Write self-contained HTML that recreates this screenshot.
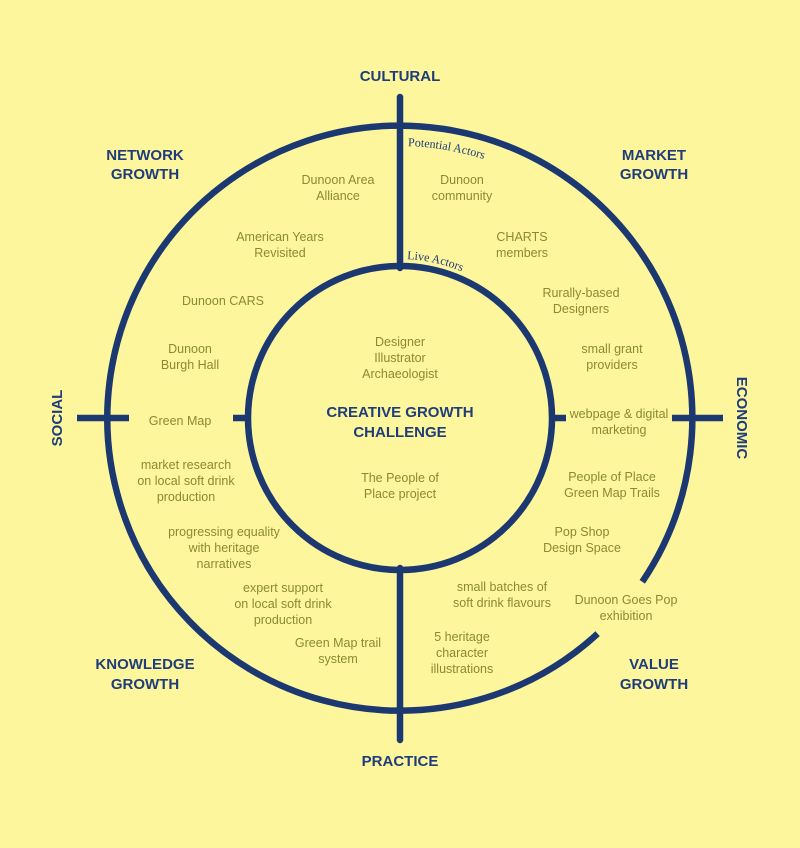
<!DOCTYPE html>
<html><head><meta charset="utf-8"><style>
html,body{margin:0;padding:0;background:#fdf69c;}
svg{display:block}
.t{font-family:"Liberation Sans",sans-serif;font-size:12.5px;fill:#8b8a33;text-anchor:middle}
.h{font-family:"Liberation Sans",sans-serif;font-size:15px;font-weight:bold;fill:#1f3d7a;text-anchor:middle}
.c{font-family:"Liberation Serif",serif;font-size:12px;fill:#1f3d7a}
</style></head><body>
<svg width="800" height="848" viewBox="0 0 800 848">
<rect width="800" height="848" fill="#fdf69c"/>
<g stroke="#1c3870" stroke-width="6.5" fill="none" stroke-linecap="butt">
<path d="M 642.3 581.8 A 292.5 292.5 0 1 0 597.6 633.7"/>
<circle cx="400" cy="418" r="152"/>
<line x1="400" y1="97" x2="400" y2="268" stroke-linecap="round"/>
<line x1="400" y1="568" x2="400" y2="740" stroke-linecap="round"/>
<line x1="77" y1="418" x2="129" y2="418"/>
<line x1="233" y1="418" x2="250" y2="418"/>
<line x1="550" y1="418" x2="566" y2="418"/>
<line x1="672" y1="418" x2="723" y2="418"/>
</g>
<defs>
<path id="pa" d="M 400 146 A 272 272 0 0 1 672 418"/>
<path id="la" d="M 400 259 A 159 159 0 0 1 559 418"/>
</defs>
<text class="c"><textPath href="#pa" startOffset="8">Potential Actors</textPath></text>
<text class="c"><textPath href="#la" startOffset="7">Live Actors</textPath></text>

<text class="h" x="400" y="81">CULTURAL</text>
<text class="h" x="400" y="766">PRACTICE</text>
<text class="h" x="145" y="160">NETWORK</text><text class="h" x="145" y="179">GROWTH</text>
<text class="h" x="654" y="160">MARKET</text><text class="h" x="654" y="179">GROWTH</text>
<text class="h" x="145" y="669">KNOWLEDGE</text><text class="h" x="145" y="689">GROWTH</text>
<text class="h" x="654" y="669">VALUE</text><text class="h" x="654" y="689">GROWTH</text>
<text class="h" transform="translate(62,418) rotate(-90)">SOCIAL</text>
<text class="h" transform="translate(737,418) rotate(90)">ECONOMIC</text>
<text class="h" x="400" y="417">CREATIVE GROWTH</text>
<text class="h" x="400" y="437">CHALLENGE</text>

<g class="t">
<text x="400" y="346">Designer</text><text x="400" y="362">Illustrator</text><text x="400" y="378">Archaeologist</text>
<text x="400" y="482">The People of</text><text x="400" y="498">Place project</text>
<text x="338" y="184">Dunoon Area</text><text x="338" y="200">Alliance</text>
<text x="280" y="241">American Years</text><text x="280" y="257">Revisited</text>
<text x="223" y="305">Dunoon CARS</text>
<text x="190" y="353">Dunoon</text><text x="190" y="369">Burgh Hall</text>
<text x="180" y="425">Green Map</text>
<text x="186" y="469">market research</text><text x="186" y="485">on local soft drink</text><text x="186" y="501">production</text>
<text x="224" y="536">progressing equality</text><text x="224" y="552">with heritage</text><text x="224" y="568">narratives</text>
<text x="283" y="592">expert support</text><text x="283" y="608">on local soft drink</text><text x="283" y="624">production</text>
<text x="338" y="647">Green Map trail</text><text x="338" y="663">system</text>
<text x="462" y="184">Dunoon</text><text x="462" y="200">community</text>
<text x="522" y="241">CHARTS</text><text x="522" y="257">members</text>
<text x="581" y="297">Rurally-based</text><text x="581" y="313">Designers</text>
<text x="612" y="353">small grant</text><text x="612" y="369">providers</text>
<text x="619" y="418">webpage &amp; digital</text><text x="619" y="434">marketing</text>
<text x="612" y="481">People of Place</text><text x="612" y="497">Green Map Trails</text>
<text x="582" y="536">Pop Shop</text><text x="582" y="552">Design Space</text>
<text x="502" y="591">small batches of</text><text x="502" y="607">soft drink flavours</text>
<text x="626" y="604">Dunoon Goes Pop</text><text x="626" y="620">exhibition</text>
<text x="462" y="641">5 heritage</text><text x="462" y="657">character</text><text x="462" y="673">illustrations</text>
</g>
</svg>
</body></html>
